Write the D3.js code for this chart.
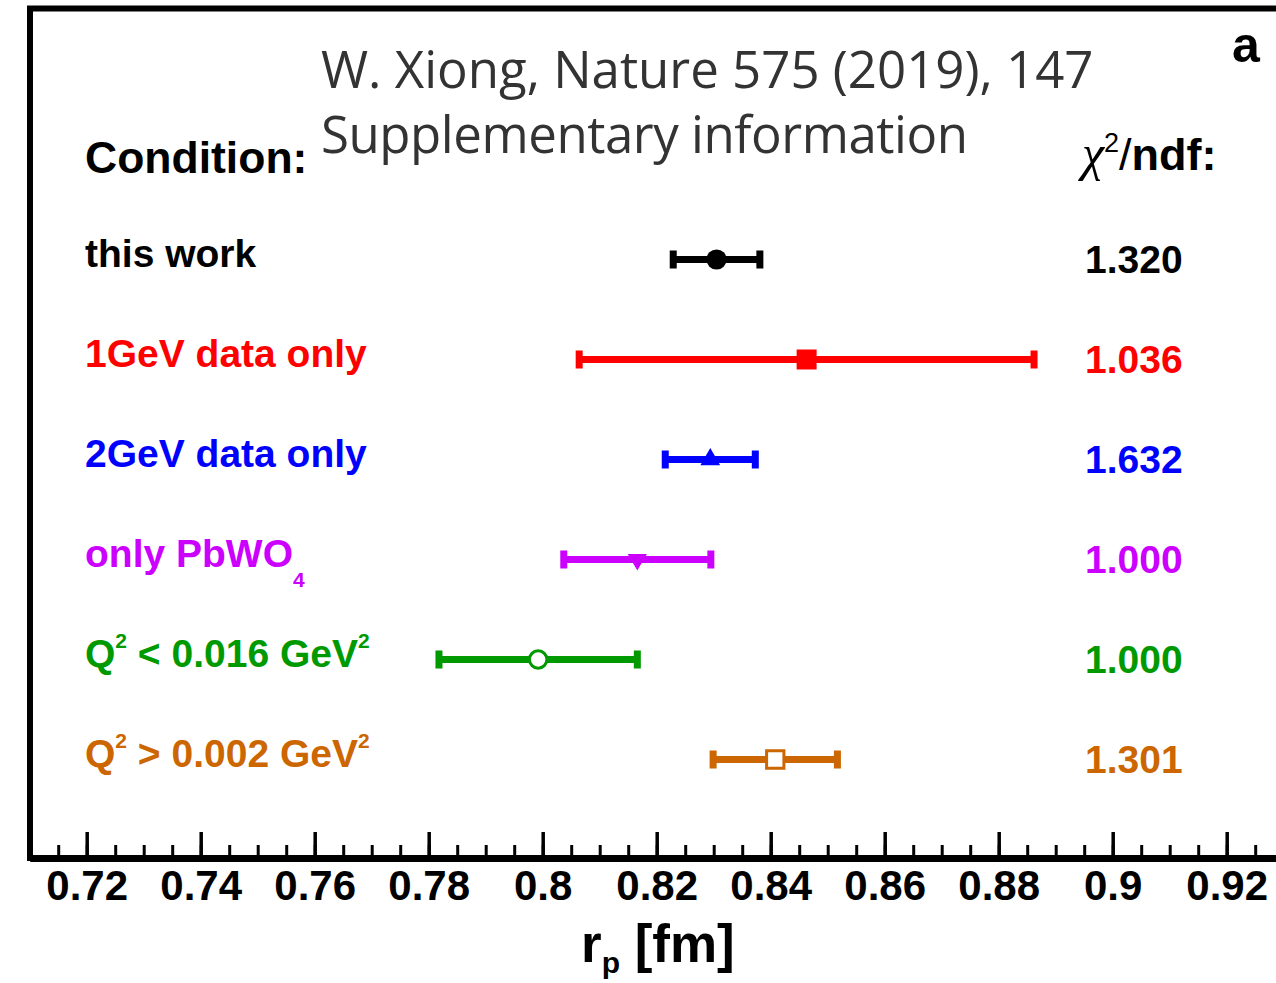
<!DOCTYPE html>
<html>
<head>
<meta charset="utf-8">
<script src="https://cdn.jsdelivr.net/npm/d3@7"></script>
<style>
  body { margin: 0; background: #fff; }
  svg { display: block; }
</style>
</head>
<body>
<div id="chart"></div>
<script>
// rows, top to bottom (TLatex-ish markup: ^{..} raised, _{..} lowered)
const conditions = ["this work", "1GeV data only", "2GeV data only", "only PbWO_{4}", "Q^{2} < 0.016 GeV^{2}", "Q^{2} > 0.002 GeV^{2}"];
const rpValues = [0.8305, 0.8463, 0.8294, 0.8166, 0.7992, 0.8408];
const rpErrors = [0.0076, 0.0399, 0.0079, 0.0129, 0.0174, 0.0109];
const chi2ndf = ["1.320", "1.036", "1.632", "1.000", "1.000", "1.301"];
const xTicks = [0.72, 0.74, 0.76, 0.78, 0.8, 0.82, 0.84, 0.86, 0.88, 0.9, 0.92];
const xTickLabels = ["0.72", "0.74", "0.76", "0.78", "0.8", "0.82", "0.84", "0.86", "0.88", "0.9", "0.92"];

const rowColors = ["#000000", "#ff0000", "#0000ff", "#cc00ff", "#009900", "#cc6600"];
const rowMarkers = ["circle", "square", "triangle", "triangleDown", "circleOpen", "squareOpen"];

const W = 1276, H = 983;
const sans = "'Liberation Sans', Arial, Helvetica, sans-serif";
const svg = d3.select("#chart").append("svg")
  .attr("width", W)
  .attr("height", H);

svg.append("rect").attr("width", W).attr("height", H).attr("fill", "#fff");

const x = d3.scaleLinear().domain([0.71, 0.93]).range([29.7, 1283.7]);
const y = d3.scalePoint().domain(conditions).range([259.5, 759.5]);
const axisY = 858;

function latex(sel, str, size, subSize, subShift, supShift) {
  const parts = str.split(/(\^\{[^}]*\}|_\{[^}]*\})/).filter(s => s.length);
  let cur = 0;
  parts.forEach(p => {
    let off = 0, txt = p, fs = size;
    if (p.startsWith("^{")) { off = -supShift; txt = p.slice(2, -1); fs = subSize; }
    else if (p.startsWith("_{")) { off = subShift; txt = p.slice(2, -1); fs = subSize; }
    sel.append("tspan")
      .attr("dy", off - cur)
      .style("font-size", fs + "px")
      .text(txt);
    cur = off;
  });
}

// frame (ROOT pad)
svg.append("rect")
  .attr("x", 30).attr("y", 8.5)
  .attr("width", 1300).attr("height", axisY - 8.5)
  .attr("fill", "none")
  .attr("stroke", "#000")
  .attr("stroke-width", 6);

// minor ticks
svg.append("g")
  .attr("transform", `translate(0,${axisY})`)
  .call(d3.axisBottom(x).tickValues(x.ticks(44)).tickSizeInner(-13).tickSizeOuter(0).tickFormat(""))
  .call(g => g.select(".domain").remove())
  .call(g => g.selectAll(".tick line").attr("stroke", "#000").attr("stroke-width", 3));

// major ticks + labels
const xAxis = svg.append("g")
  .attr("transform", `translate(0,${axisY})`)
  .call(d3.axisBottom(x).tickValues(xTicks).tickSizeInner(-26).tickSizeOuter(0).tickPadding(12)
    .tickFormat((d, i) => xTickLabels[i]));
xAxis.select(".domain").attr("stroke", "#000").attr("stroke-width", 7);
xAxis.selectAll(".tick line").attr("stroke", "#000").attr("stroke-width", 3.5);
xAxis.selectAll(".tick text")
  .attr("fill", "#000")
  .style("font-family", sans)
  .style("font-weight", "bold")
  .style("font-size", "42px");

// axis title r_p [fm]
svg.append("text")
  .attr("x", 581).attr("y", 962)
  .style("font-family", sans).style("font-weight", "bold").style("font-size", "53px")
  .call(t => latex(t, "r_{p} [fm]", 53, 30, 11, 0));

// headers
svg.append("text")
  .attr("x", 85).attr("y", 173)
  .style("font-family", sans).style("font-weight", "bold").style("font-size", "44.5px")
  .text("Condition:");

const chiHead = svg.append("text")
  .attr("x", 1082).attr("y", 170)
  .style("font-family", sans).style("font-size", "45px");
chiHead.append("tspan")
  .style("font-family", "'Liberation Serif', 'Times New Roman', serif")
  .style("font-style", "italic")
  .style("font-size", "50px")
  .text("χ");
chiHead.append("tspan").attr("dy", -18).style("font-size", "27px").text("2");
chiHead.append("tspan").attr("dy", 18).text("/");
chiHead.append("tspan").style("font-weight", "bold").text("ndf:");

svg.append("text")
  .attr("x", 1232).attr("y", 62)
  .style("font-family", sans).style("font-weight", "bold").style("font-size", "50px")
  .text("a");

// row labels
svg.append("g").selectAll("text")
  .data(conditions)
  .join("text")
  .attr("x", 85)
  .attr("y", d => y(d) + 7)
  .attr("fill", (d, i) => rowColors[i])
  .style("font-family", sans).style("font-weight", "bold").style("font-size", "39px")
  .each(function (d) { latex(d3.select(this), d, 39, 21, 20, 19); });

// chi2/ndf values
svg.append("g").selectAll("text")
  .data(chi2ndf)
  .join("text")
  .attr("x", 1085)
  .attr("y", (d, i) => y(conditions[i]) + 13)
  .attr("fill", (d, i) => rowColors[i])
  .style("font-family", sans).style("font-weight", "bold").style("font-size", "39px")
  .text(d => d);

// error bars + markers
const rows = conditions.map((c, i) => ({ c, v: rpValues[i], e: rpErrors[i], color: rowColors[i], marker: rowMarkers[i] }));
const pts = svg.append("g").selectAll("g")
  .data(rows)
  .join("g")
  .attr("transform", d => `translate(0,${y(d.c)})`);

pts.append("line")
  .attr("x1", d => x(d.v - d.e))
  .attr("x2", d => x(d.v + d.e))
  .attr("stroke", d => d.color)
  .attr("stroke-width", 7);

pts.selectAll("rect.cap")
  .data(d => [{ x: x(d.v - d.e), color: d.color }, { x: x(d.v + d.e), color: d.color }])
  .join("rect")
  .attr("class", "cap")
  .attr("x", d => d.x - 3.5)
  .attr("y", -9)
  .attr("width", 7)
  .attr("height", 18)
  .attr("fill", d => d.color);

const symbolFor = {
  circle: d3.symbol(d3.symbolCircle, 320),
  square: d3.symbol(d3.symbolSquare, 400),
  triangle: d3.symbol(d3.symbolTriangle, 170),
  triangleDown: d3.symbol(d3.symbolTriangle, 160),
  circleOpen: d3.symbol(d3.symbolCircle, 240),
  squareOpen: d3.symbol(d3.symbolSquare, 300)
};

pts.append("path")
  .attr("d", d => symbolFor[d.marker]())
  .attr("transform", d => `translate(${x(d.v)},0)` + (d.marker === "triangleDown" ? " rotate(180)" : ""))
  .attr("fill", d => d.marker.endsWith("Open") ? "#fff" : d.color)
  .attr("stroke", d => d.marker.endsWith("Open") ? d.color : "none")
  .attr("stroke-width", 3);

// overlaid citation text
const cite = svg.append("text")
  .attr("x", 321).attr("y", 88)
  .attr("fill", "#333")
  .style("font-family", "'Open Sans', 'Noto Sans', sans-serif")
  .style("font-size", "51px");
cite.append("tspan").attr("x", 321).text("W. Xiong, Nature 575 (2019), 147");
cite.append("tspan").attr("x", 321).attr("dy", 65).attr("textLength", 647).text("Supplementary information");
</script>
</body>
</html>
